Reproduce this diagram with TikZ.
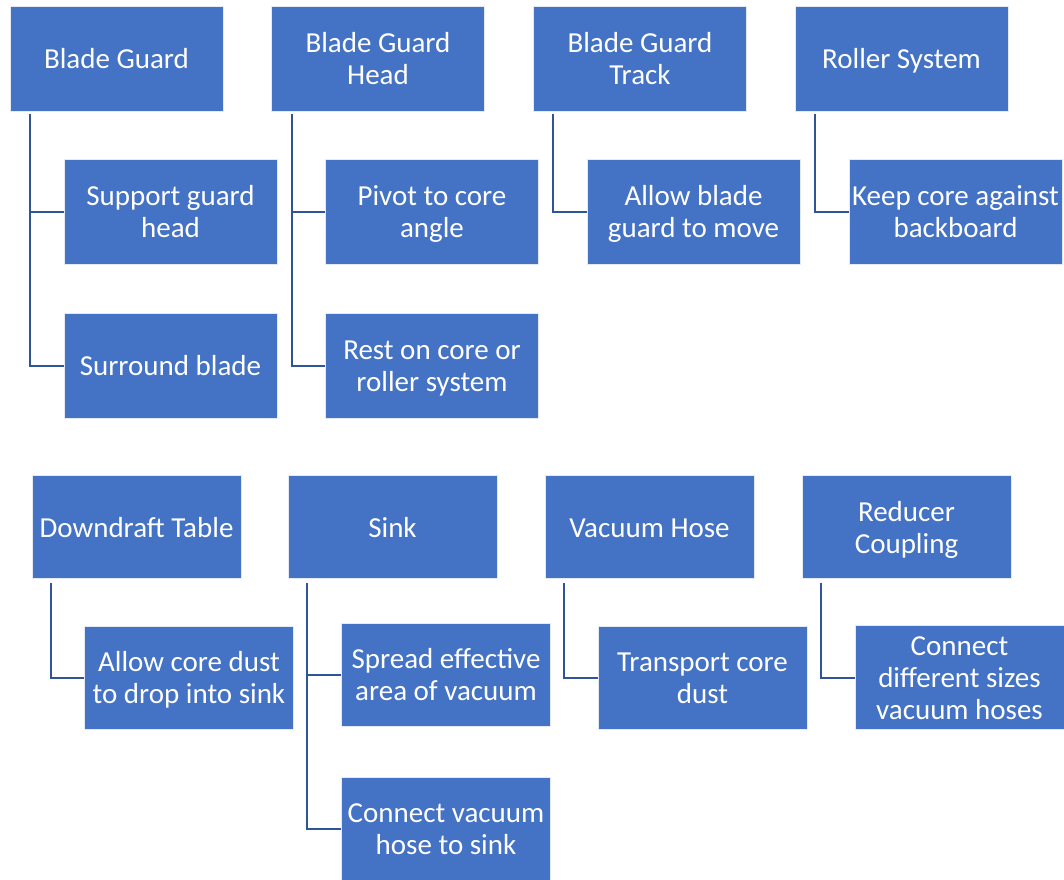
\documentclass[tikz,border=0pt]{standalone}
\usepackage{fontspec}
\setmainfont{Carlito}
\definecolor{boxfill}{HTML}{4472C4}
\definecolor{linkblue}{HTML}{2F5597}
% fixed line extents so every label sits at the same height in its box
\newcommand{\topstrut}{\rule{0pt}{30.4pt}}
\newcommand{\botstrut}{\rule[-9.6pt]{0pt}{9.6pt}}
\begin{document}
\begin{tikzpicture}[x=1pt,y=-1pt,
  box/.style={rectangle, fill=boxfill, draw=white!85!boxfill, line width=0.8pt,
    text=white, align=center, inner sep=0pt,
    font=\fontsize{29}{32}\selectfont,
    execute at begin node=\topstrut, execute at end node=\botstrut},
  headbig/.style={box, minimum width=213pt, minimum height=105pt},
  headsmall/.style={box, minimum width=209pt, minimum height=103pt},
  link/.style={draw=linkblue, line width=2pt}]
\useasboundingbox (0,0) rectangle (1064,879);

% upper group: heads
\node[headbig] (bg)  at (116.5,58.5) {Blade Guard};
\node[headbig] (bgh) at (378,58.5)   {\topstrut Blade Guard\\Head};
\node[headbig] (bgt) at (640,58.5)   {\topstrut Blade Guard\\Track};
\node[headbig] (rs)  at (901.5,58.5) {Roller System};

% upper group: functions
\node[headbig] (sgh) at (170.5,211.5) {\topstrut Support guard\\head};
\node[headbig] (sb)  at (170.5,365.5) {Surround blade};
\node[headbig] (pca) at (432,211.5)   {\topstrut Pivot to core\\angle};
\node[headbig] (rcr) at (432,365.5)   {\topstrut Rest on core or\\roller system};
\node[headbig] (abg) at (693.5,211.5) {\topstrut Allow blade\\guard to move};
\node[headbig] (kcb) at (955.5,211.5) {\topstrut Keep core against\\backboard};

% lower group: heads
\node[headsmall] (dt)   at (136.5,527) {Downdraft Table};
\node[headsmall] (sink) at (392.5,527) {Sink};
\node[headsmall] (vh)   at (649.5,527) {Vacuum Hose};
\node[headsmall] (rc)   at (906.5,527) {\topstrut Reducer\\Coupling};

% lower group: functions
\node[headsmall] (acd) at (189,677.5)   {\topstrut Allow core dust\\to drop into sink};
\node[headsmall] (sea) at (446,674.5)   {\topstrut Spread effective\\area of vacuum};
\node[headsmall] (cvh) at (446,828.5)   {\topstrut Connect vacuum\\hose to sink};
\node[headsmall] (tcd) at (702.5,677.5) {\topstrut Transport core\\dust};
\node[headsmall] (cds) at (959.5,677.5) {\topstrut Connect\\different sizes\\vacuum hoses};

% tree connectors
\draw[link] ([xshift=20pt,yshift=-3pt]bg.south west) |- (sb.west);
\draw[link] ([xshift=20pt,yshift=-3pt]bg.south west) |- (sgh.west);
\draw[link] ([xshift=21pt,yshift=-3pt]bgh.south west) |- (rcr.west);
\draw[link] ([xshift=21pt,yshift=-3pt]bgh.south west) |- (pca.west);
\draw[link] ([xshift=20pt,yshift=-3pt]bgt.south west) |- (abg.west);
\draw[link] ([xshift=20pt,yshift=-3pt]rs.south west) |- (kcb.west);

\draw[link] ([xshift=19pt,yshift=-4pt]dt.south west) |- (acd.west);
\draw[link] ([xshift=19pt,yshift=-4pt]sink.south west) |- (cvh.west);
\draw[link] ([xshift=19pt,yshift=-4pt]sink.south west) |- (sea.west);
\draw[link] ([xshift=19pt,yshift=-4pt]vh.south west) |- (tcd.west);
\draw[link] ([xshift=19pt,yshift=-4pt]rc.south west) |- (cds.west);
\end{tikzpicture}
\end{document}
